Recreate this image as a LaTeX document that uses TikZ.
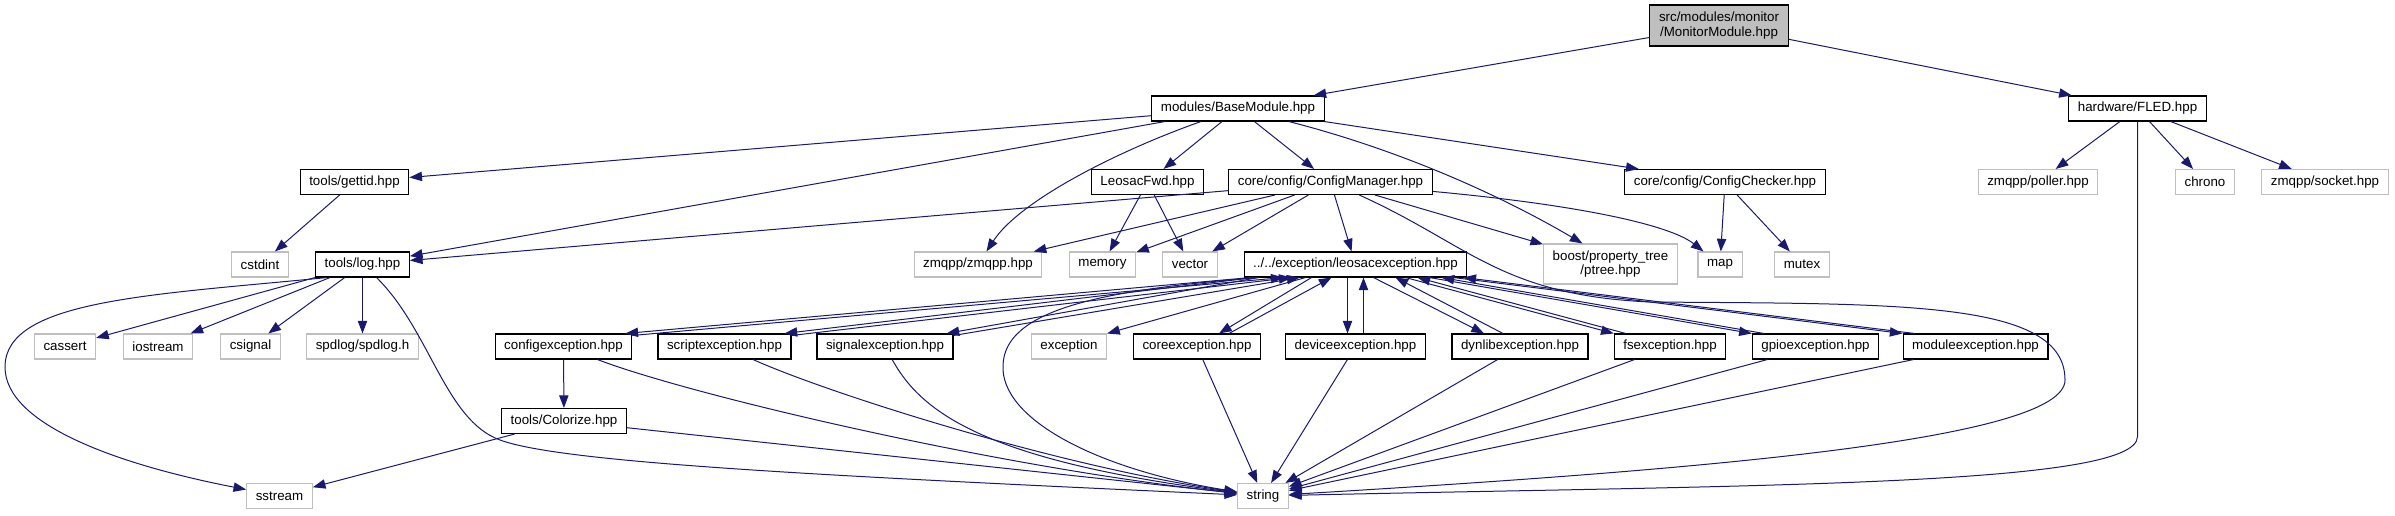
\documentclass[tikz,border=0pt]{standalone}
\usepackage{fontspec}
\setmainfont{Liberation Sans}
\definecolor{edgeblue}{HTML}{191970}
\definecolor{sysgray}{HTML}{BFBFBF}
\usetikzlibrary{arrows.meta, calc}

\begin{document}
\begin{tikzpicture}[x=0.75pt, y=-0.75pt,
    file/.style={draw=black, line width=0.8pt, fill=white, font=\fontsize{10}{11}\selectfont,
        inner xsep=6.8pt, inner ysep=0pt, minimum height=18.75pt, align=center},
    sysfile/.style={file, draw=sysgray},
    mainfile/.style={file, fill=sysgray, minimum height=30.75pt},
    twoline/.style={minimum height=30pt},
    edge/.style={draw=edgeblue, line width=0.75pt, -{Triangle[length=9.5pt, width=7pt]}}]
    \useasboundingbox (0,0) rectangle (2395,515);

    % Header file
    \node[mainfile] (mon) at (1719,25.5) {src/modules/monitor\\/MonitorModule.hpp};

    % Direct includes
    \node[file] (base) at (1238,108.5) {modules/BaseModule.hpp};
    \node[file] (fled) at (2137.5,108.5) {hardware/FLED.hpp};

    % Second level
    \node[file] (gettid) at (354.5,182) {tools/gettid.hpp};
    \node[file] (leofwd) at (1147.5,182) {LeosacFwd.hpp};
    \node[file] (cfgmgr) at (1330.5,182) {core/config/ConfigManager.hpp};
    \node[file] (cfgchk) at (1725,182) {core/config/ConfigChecker.hpp};
    \node[sysfile] (poller) at (2038,182) {zmqpp/poller.hpp};
    \node[sysfile] (chrono) at (2205,182) {chrono};
    \node[sysfile] (socket) at (2325,182) {zmqpp/socket.hpp};

    % Third level
    \node[sysfile] (cstdint) at (260,264.5) {cstdint};
    \node[file] (log) at (362.5,264.5) {tools/log.hpp};
    \node[sysfile] (zmqpp) at (978,264.5) {zmqpp/zmqpp.hpp};
    \node[sysfile] (memory) at (1102.5,264.5) {memory};
    \node[sysfile] (vector) at (1190,264.5) {vector};
    \node[file] (leo) at (1355.5,264.5) {../../exception/leosacexception.hpp};
    \node[sysfile, twoline] (ptree) at (1610.5,264) {boost/property\_tree\\/ptree.hpp};
    \node[sysfile] (map) at (1720,264.5) {map};
    \node[sysfile] (mutex) at (1802,264.5) {mutex};

    % Fourth level
    \node[sysfile] (cassert) at (65,346.5) {cassert};
    \node[sysfile] (iostream) at (158,346.5) {iostream};
    \node[sysfile] (csignal) at (250.5,346.5) {csignal};
    \node[sysfile] (spdlog) at (362.5,346.5) {spdlog/spdlog.h};
    \foreach \id/\x/\fname in {cfgexc/563.5/configexception, screxc/724.5/scriptexception,
        sigexc/885/signalexception, coreexc/1197/coreexception, devexc/1355.5/deviceexception,
        dynexc/1520/dynlibexception, fsexc/1670/fsexception, gpioexc/1815.5/gpioexception,
        modexc/1975.5/moduleexception} {
        \node[file] (\id) at (\x,346.5) {\fname.hpp};
    }
    \node[sysfile] (exc) at (1069,346.5) {exception};

    % Bottom
    \node[file] (colorize) at (564,421) {tools/Colorize.hpp};
    \node[sysfile] (sstream) at (279.5,496) {sstream};
    \node[sysfile] (string) at (1263,496) {string};

    % MonitorModule
    \draw[edge] (mon) -- (base);
    \draw[edge] (mon) -- (fled);

    % BaseModule
    \draw[edge] (base) -- (gettid);
    \draw[edge] (base) -- (log);
    \draw[edge] (base) .. controls (1120,150) and (1020,200) .. (zmqpp);
    \draw[edge] (base) -- (leofwd);
    \draw[edge] (base) -- (cfgmgr);
    \draw[edge] (base) .. controls (1400,150) and (1500,195) .. ($(ptree.north)+(-28,0)$);
    \draw[edge] (base) -- (cfgchk);

    % FLED
    \draw[edge] (fled) -- (poller);
    \draw[edge] (fled) -- (chrono);
    \draw[edge] (fled) -- (socket);
    \draw[edge] (fled.south) -- ++(0,315) .. controls +(0,50) and (1750,485) .. (string);

    \draw[edge] (gettid) -- (cstdint);
    \draw[edge] (leofwd) -- (memory);
    \draw[edge] (leofwd) -- (vector);

    % ConfigManager
    \draw[edge] (cfgmgr) -- (log);
    \draw[edge] (cfgmgr) -- (zmqpp);
    \draw[edge] (cfgmgr) -- (memory);
    \draw[edge] (cfgmgr) -- (vector);
    \draw[edge] (cfgmgr) -- (leo);
    \draw[edge] (cfgmgr) -- (ptree);
    \draw[edge] (cfgmgr) .. controls (1580,205) and (1670,225) .. (map);
    \draw[edge] (cfgmgr) .. controls (1470,245) and (1500,295) .. (1650,302)
        .. controls (1900,304) and (2065,300) .. (2065,380)
        .. controls (2065,440) and (1700,470) .. (string);

    \draw[edge] (cfgchk) -- (map);
    \draw[edge] (cfgchk) -- (mutex);

    % log
    \draw[edge] (log) -- (cassert);
    \draw[edge] (log) -- (iostream);
    \draw[edge] (log) -- (csignal);
    \draw[edge] (log) -- (spdlog);
    \draw[edge] ($(log.south west)+(12,0)$) .. controls (150,295) and (5,300) .. (5,367)
        .. controls (5,425) and (120,465) .. (sstream);
    \draw[edge] ($(log.south)+(14,0)$) .. controls (430,330) and (445,420) .. (500,440)
        .. controls (560,462) and (800,475) .. (string);

    % leosacexception and back
    \draw[edge] ($(leo.south west)+(7,0)$) -- ($(cfgexc.north east)+(-7,0)$);
    \draw[edge] ($(cfgexc.north east)+(0,2)$) -- ($(leo.south west)+(40,0)$);
    \draw[edge] ($(leo.south west)+(11,0)$) -- ($(screxc.north east)+(-7,0)$);
    \draw[edge] ($(screxc.north east)+(0,2)$) -- ($(leo.south west)+(48,0)$);
    \draw[edge] ($(leo.south west)+(15,0)$) -- ($(sigexc.north east)+(-7,0)$);
    \draw[edge] ($(sigexc.north east)+(0,2)$) -- ($(leo.south west)+(56,0)$);
    \draw[edge] ($(leo.south)+(-50,0)$) -- (exc.north east);
    \draw[edge] ($(leo.south)+(-44,0)$) -- ($(coreexc.north)+(22,0)$);
    \draw[edge] ($(coreexc.north)+(32,0)$) -- ($(leo.south)+(-24,0)$);
    \draw[edge] ($(leo.south)+(-8,0)$) -- ($(devexc.north)+(-8,0)$);
    \draw[edge] ($(devexc.north)+(8,0)$) -- ($(leo.south)+(8,0)$);
    \draw[edge] ($(leo.south)+(18,0)$) -- ($(dynexc.north)+(-36,0)$);
    \draw[edge] ($(dynexc.north)+(-17,0)$) -- ($(leo.south)+(40,0)$);
    \draw[edge] ($(leo.south)+(50,0)$) -- (fsexc.north west);
    \draw[edge] ($(fsexc.north west)+(12,0)$) -- ($(leo.south)+(62,0)$);
    \draw[edge] ($(leo.south)+(74,0)$) -- (gpioexc.north west);
    \draw[edge] ($(gpioexc.north west)+(12,0)$) -- ($(leo.south)+(86,0)$);
    \draw[edge] ($(leo.south east)+(-14,0)$) -- (modexc.north west);
    \draw[edge] ($(modexc.north west)+(12,0)$) -- ($(leo.south east)+(-4,0)$);
    \draw[edge] ($(leo.south west)+(15,0)$) .. controls (1100,290) and (1005,310) .. (1003,365)
        .. controls (1000,420) and (1100,470) .. (string);

    % down to string
    \draw[edge] (cfgexc) -- (colorize);
    \draw[edge] (colorize) -- (sstream);
    \draw[edge] (cfgexc) .. controls (690,395) and (1000,468) .. (string);
    \draw[edge] (screxc) .. controls (820,390) and (1050,465) .. (string);
    \draw[edge] (sigexc) .. controls (920,410) and (980,460) .. (string);
    \foreach \id in {colorize, coreexc, devexc, dynexc, fsexc, gpioexc, modexc}
        \draw[edge] (\id) -- (string);
\end{tikzpicture}
\end{document}
